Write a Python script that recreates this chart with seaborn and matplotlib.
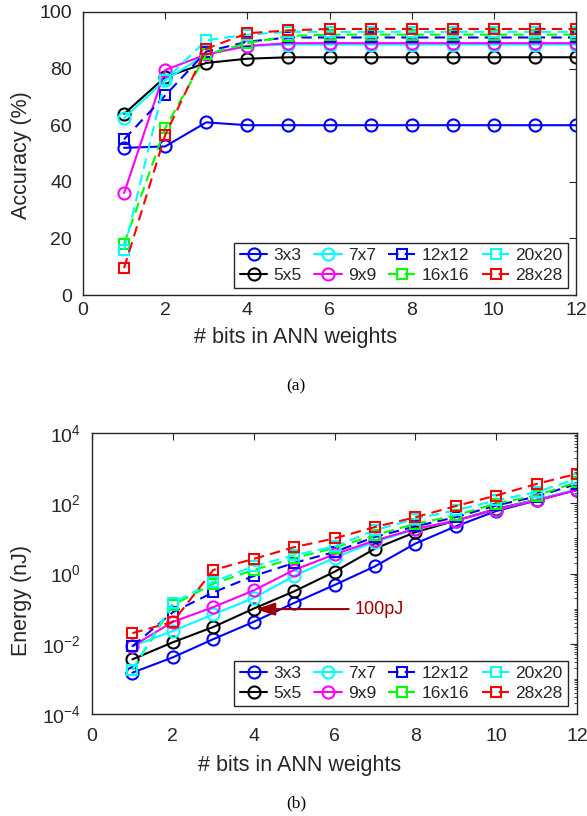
import numpy as np
import pandas as pd
import matplotlib
matplotlib.use("Agg")
import matplotlib.pyplot as plt
from matplotlib.ticker import LogLocator, NullFormatter
import seaborn as sns

# ---------------- data ----------------
bits = [1, 2, 3, 4, 5, 6, 7, 8, 9, 10, 11, 12]
sizes = ["3x3", "5x5", "7x7", "9x9", "12x12", "16x16", "20x20", "28x28"]

acc_3x3 = [52, 52.5, 61, 60, 60, 60, 60, 60, 60, 60, 60, 60]
acc_5x5 = [64, 77, 82, 83.5, 84, 84, 84, 84, 84, 84, 84, 84]
acc_7x7 = [62.5, 76, 85, 88, 88.5, 88.5, 88.5, 88.5, 88.5, 88.5, 88.5, 88.5]
acc_9x9 = [36, 79.5, 85, 88, 89, 89, 89, 89, 89, 89, 89, 89]
acc_12x12 = [55, 70.5, 86, 89.5, 91, 91, 91, 91, 91, 91, 91, 91]
acc_16x16 = [18, 59, 85, 89, 91.5, 92, 92, 92, 92, 92, 92, 92]
acc_20x20 = [16, 76, 90, 92, 93, 93, 93, 93, 93, 93, 93, 93]
acc_28x28 = [9.5, 56.5, 87, 92.5, 93.5, 94, 94, 94, 94, 94, 94, 94]

en_3x3 = [1.5e-3, 4.1e-3, 1.35e-2, 4.2e-2, 0.145, 0.47, 1.6, 7.1, 22, 60, 120, 240]
en_5x5 = [3.6e-3, 1.1e-2, 3.0e-2, 0.1, 0.31, 1.12, 5.1, 15, 32, 69, 126, 240]
en_7x7 = [8.5e-3, 2.3e-2, 6.9e-2, 0.2, 0.85, 2.8, 8.0, 18, 32, 66, 126, 250]
en_9x9 = [8.5e-3, 4.2e-2, 0.11, 0.33, 1.26, 3.5, 8.7, 18.6, 32, 66, 120, 240]
en_12x12 = [8.5e-3, 7.9e-2, 0.29, 0.85, 2.0, 4.1, 11, 22, 40, 87, 155, 355]
en_16x16 = [1.8e-3, 0.125, 0.51, 1.26, 2.7, 5.4, 12.3, 26, 45, 98, 166, 400]
en_20x20 = [1.8e-3, 0.145, 0.58, 1.6, 3.3, 5.9, 17, 36, 63, 120, 209, 500]
en_28x28 = [2.0e-2, 4.2e-2, 1.26, 2.6, 5.6, 10, 21, 40, 83, 166, 355, 690]

acc_series = [acc_3x3, acc_5x5, acc_7x7, acc_9x9, acc_12x12, acc_16x16, acc_20x20, acc_28x28]
en_series = [en_3x3, en_5x5, en_7x7, en_9x9, en_12x12, en_16x16, en_20x20, en_28x28]

x_ticks = [0, 2, 4, 6, 8, 10, 12]
acc_ticks = [0, 20, 40, 60, 80, 100]
en_ticks = [1e-4, 1e-2, 1e0, 1e2, 1e4]

# ---------------- styles ----------------
colors = ["#0000ff", "#000000", "#00ffff", "#ff00ff",
          "#0000ff", "#00ff00", "#00ffff", "#ff0000"]
markers = ["o", "o", "o", "o", "s", "s", "s", "s"]
styles = ["-", "-", "-", "-", "--", "--", "--", "--"]
msizes = [8.7, 8.7, 8.7, 8.7, 7.5, 7.5, 7.5, 7.5]
darkred = "#9b0000"

sns.set_theme(style="white")
plt.rcParams["font.family"] = ["Liberation Sans", "DejaVu Sans"]
plt.rcParams["mathtext.fontset"] = "custom"
plt.rcParams["mathtext.rm"] = "Liberation Sans"
plt.rcParams["mathtext.it"] = "Liberation Sans:italic"
plt.rcParams["mathtext.bf"] = "Liberation Sans:bold"
plt.rcParams["mathtext.default"] = "regular"

W, H = 587, 816
fig = plt.figure(figsize=(W / 100, H / 100), dpi=100)


def px_axes(l, t, r, b):
    return fig.add_axes([l / W, 1 - b / H, (r - l) / W, (b - t) / H])


ax1 = px_axes(83, 12, 576, 295)
ax2 = px_axes(92, 433, 577, 714)


def draw(ax, series):
    for name, vals, c, m, ls, ms in zip(sizes, series, colors, markers, styles, msizes):
        df = pd.DataFrame({"bits": bits, "val": vals})
        sns.lineplot(data=df, x="bits", y="val", ax=ax, color=c, marker=m,
                     linestyle=ls, linewidth=1.5, markersize=ms,
                     markerfacecolor="none", markeredgecolor=c,
                     markeredgewidth=1.5, label=name, legend=False,
                     errorbar=None)
    for ln in ax.lines:
        if ln.get_linestyle() == "--":
            ln.set_dashes((5, 3))


draw(ax1, acc_series)
draw(ax2, en_series)

for ax in (ax1, ax2):
    ax.set_xlim(0, 12)
    ax.set_xticks(x_ticks)
    ax.tick_params(axis="both", which="both", direction="in", top=True,
                   right=True, colors="#262626", labelcolor="#262626",
                   labelsize=14)
    ax.tick_params(which="major", length=5, width=0.8)
    ax.tick_params(which="minor", length=2.5, width=0.6)
    for s in ax.spines.values():
        s.set_color("#262626")
        s.set_linewidth(1.0)
    ax.set_xlabel("# bits in ANN weights", fontsize=15.5, color="#262626")
    ax.xaxis.label.set_va("center")

ax1.set_ylim(0, 100)
ax1.set_yticks(acc_ticks)
ax1.set_ylabel("Accuracy (%)", fontsize=15.5, color="#262626")
ax1.tick_params(axis="x", pad=5)
ax1.tick_params(axis="y", pad=8)

ax2.set_yscale("log")
ax2.set_ylim(1e-4, 1e4)
ax2.set_yticks(en_ticks)
ax2.yaxis.set_minor_locator(LogLocator(base=10, subs=np.arange(1, 10), numticks=100))
ax2.yaxis.set_minor_formatter(NullFormatter())
ax2.set_ylabel("Energy (nJ)", fontsize=15.5, color="#262626")
ax2.tick_params(axis="x", pad=10)
ax2.tick_params(axis="y", pad=8)

for ax in (ax1, ax2):
    ax.yaxis.label.set_va("center")

# label placement (axes fraction from pixel positions)
ax1.xaxis.set_label_coords((296 - 83) / 493, -(337 - 295) / 283)
ax2.xaxis.set_label_coords((300 - 92) / 485, -(765 - 714) / 281)
ax1.yaxis.set_label_coords((22 - 83) / 493, (295 - 155) / 283)
ax2.yaxis.set_label_coords((22 - 92) / 485, (714 - 600) / 281)

leg_kw = dict(ncol=4, loc="lower right", fontsize=12.5, frameon=True,
              fancybox=False, edgecolor="#262626", framealpha=1,
              handlelength=1.6, handletextpad=0.35, columnspacing=0.7,
              labelspacing=0.25, borderpad=0.3, borderaxespad=0)
l1 = ax1.legend(bbox_to_anchor=((568 - 83) / 493, (295 - 288) / 283), **leg_kw)
l2 = ax2.legend(bbox_to_anchor=((568 - 92) / 485, (714 - 706) / 281), **leg_kw)
for lg in (l1, l2):
    lg.get_frame().set_linewidth(1.0)

ax2.annotate("100pJ", xy=(4.05, 0.097), xytext=(6.5, 0.097), color=darkred,
             fontsize=13, va="center", ha="left",
             arrowprops=dict(arrowstyle="-|>,head_length=0.9,head_width=0.3",
                             color=darkred, lw=1.5, shrinkA=2, shrinkB=0))

fig.text(296 / W, 1 - 386 / H, "(a)", ha="center", va="center",
         fontsize=12.5, family="Liberation Serif", color="black")
fig.text(296 / W, 1 - 803 / H, "(b)", ha="center", va="center",
         fontsize=12.5, family="Liberation Serif", color="black")

fig.savefig("out.png", dpi=100)
